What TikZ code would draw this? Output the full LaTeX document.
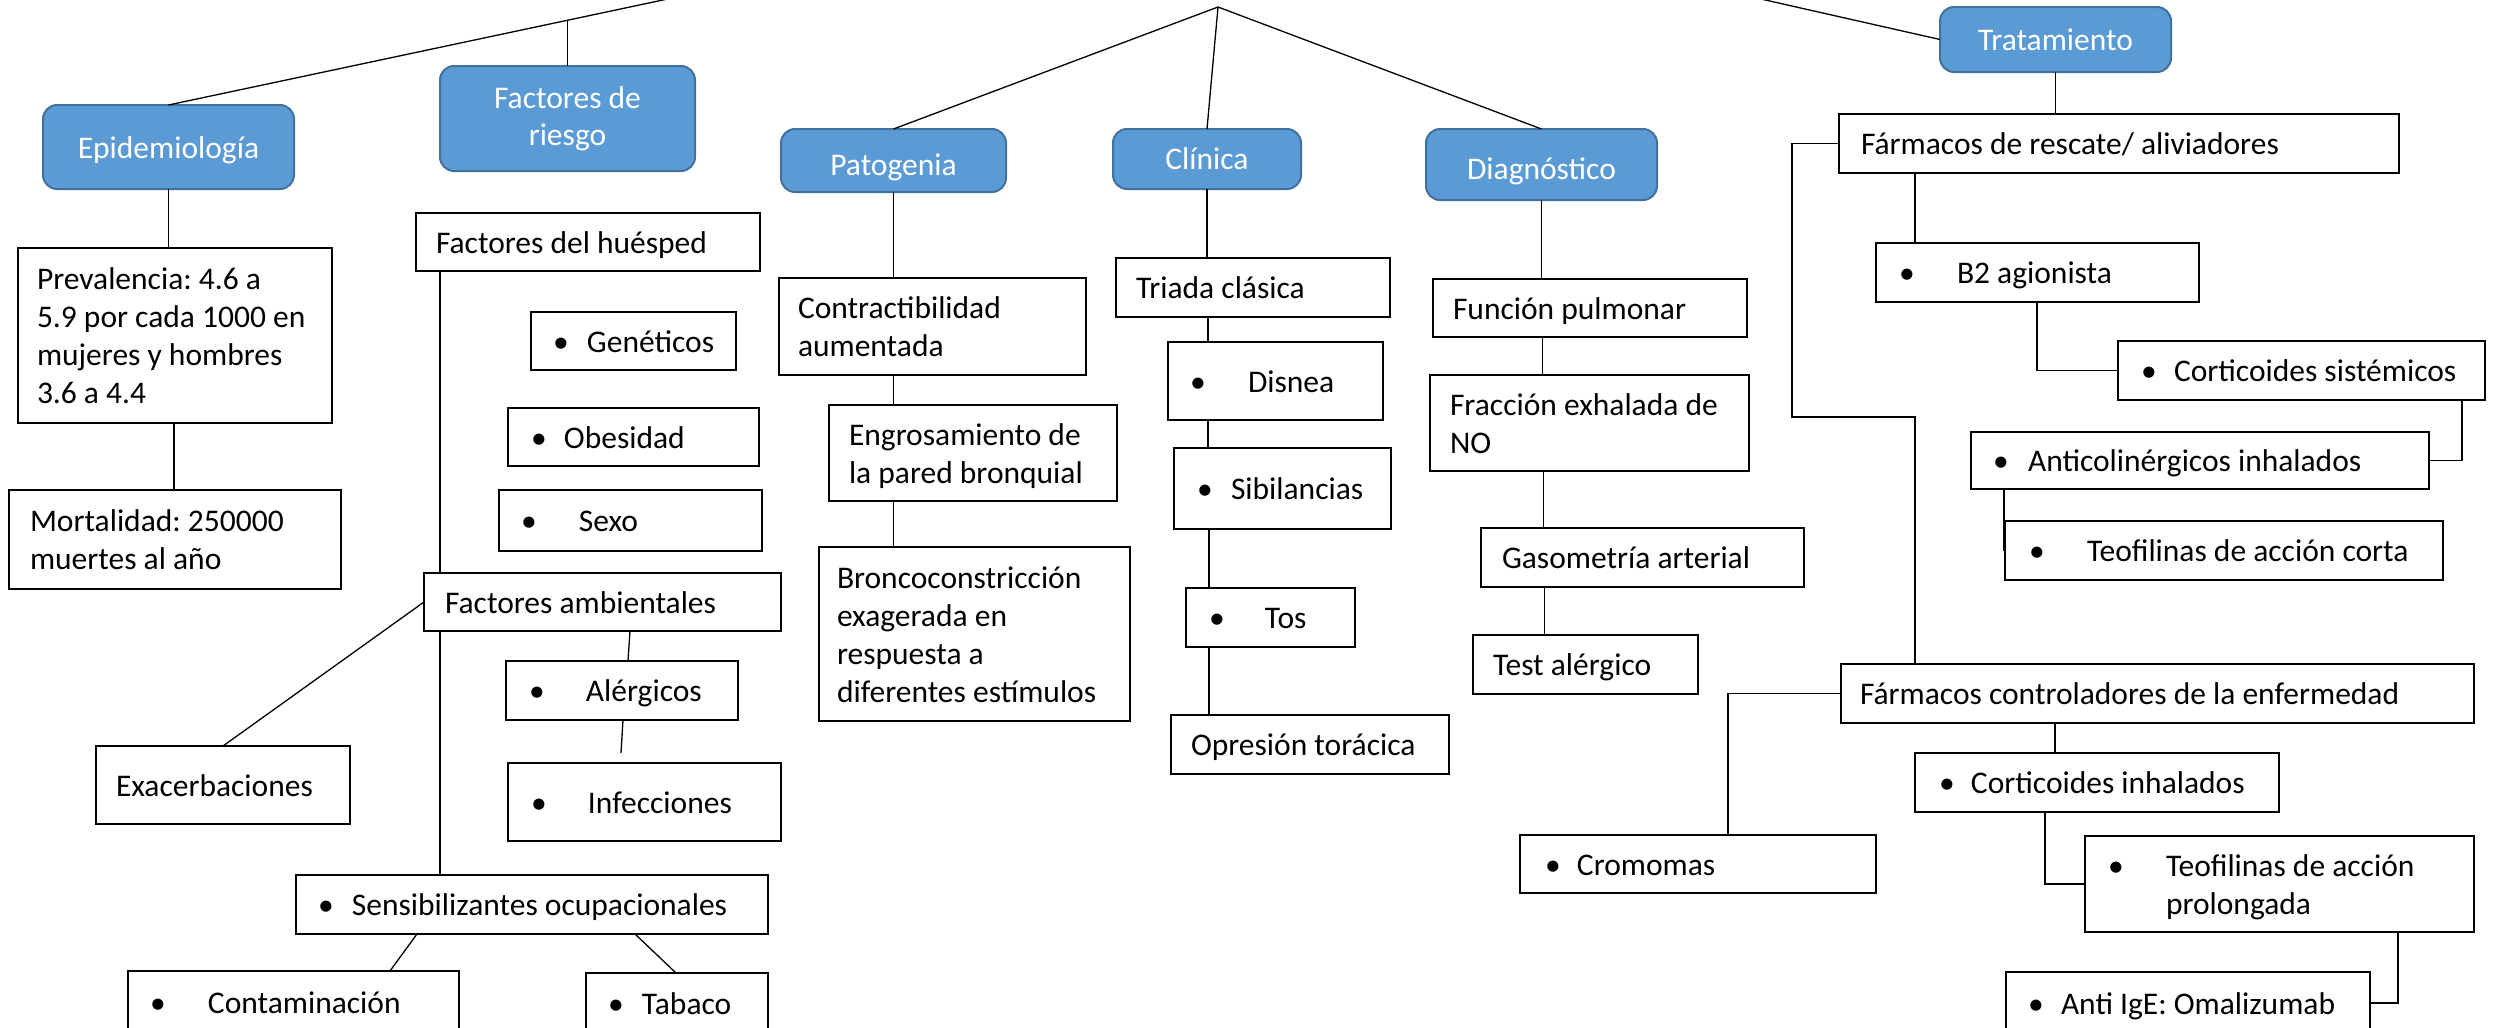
\documentclass[tikz,border=0pt]{standalone}
\usepackage{fontspec}
\setmainfont{Carlito}
\frenchspacing
\definecolor{hdfill}{HTML}{5B9BD5}
\definecolor{hdline}{HTML}{41719C}
\tikzset{
  bx/.style={draw=black, line width=2.6pt, fill=white, inner sep=0pt, outer sep=0pt},
  hd/.style={draw=hdline, line width=2pt, fill=hdfill, rounded corners=14pt, text=white, align=center, inner sep=0pt, outer sep=0pt},
  conn/.style={draw=black, line width=1.3pt}
}
\newcommand\mkbox[7]{%
  \node[bx, minimum width={(#4-#2)*1pt}, minimum height={(#5-#3)*1pt}] (#1) at ({(#2+#4)/2*1pt},{-(#3+#5)/2*1pt})
  {\parbox{\dimexpr#4pt-#2pt\relax}{\leftskip=#6pt\relax\rightskip=0pt plus 1fil\parindent=0pt\parfillskip=0pt plus 1fil\rule{0pt}{34pt}#7\rule[-12pt]{0pt}{12pt}}};}
% name, x1, y1, x2, y2, extra options, text
\newcommand\mkhd[7]{%
  \node[hd, minimum width={(#4-#2)*1pt}, minimum height={(#5-#3)*1pt}, #6] (#1) at ({(#2+#4)/2*1pt},{-(#3+#5)/2*1pt}) {#7};}
\newcommand\bul[2]{\makebox[#1pt][l]{•}#2}
\begin{document}
\begin{tikzpicture}[x=1pt, y=-1pt, font=\fontsize{31.5}{38}\selectfont]
\useasboundingbox (0,0) rectangle (2501,1028);
\fill[white] (0,0) rectangle (2501,1028);
\clip (0,0) rectangle (2501,1028);

% headers
\mkhd{epi}{43}{105}{294}{189}{text height=31pt, text depth=8pt}{Epidemiología}
\mkhd{fac}{440}{66}{695}{171}{}{Factores de\\[-1pt]riesgo}
\mkhd{pat}{781}{129}{1006}{192}{text height=38pt, text depth=8pt}{Patogenia}
\mkhd{cli}{1113}{129}{1301}{189}{text height=28pt, text depth=8pt}{Clínica}
\mkhd{dia}{1426}{129}{1657}{200}{text height=37pt, text depth=8pt}{Diagnóstico}
\mkhd{tra}{1940}{7}{2171}{72}{text height=29pt, text depth=8pt}{Tratamiento}

% epidemiologia
\mkbox{prev}{18}{248}{332}{423}{19}{Prevalencia: 4.6 a\\5.9 por cada 1000 en\\mujeres y hombres\\3.6 a 4.4}
\mkbox{mort}{9}{490}{341}{589}{21}{Mortalidad: 250000\\muertes al año}

% factores de riesgo
\mkbox{hues}{416}{213}{760}{271}{20}{Factores del huésped}
\mkbox{gen}{531}{312}{736}{370}{22}{\bul{34}{Genéticos}}
\mkbox{obe}{508}{408}{759}{466}{23}{\bul{33}{Obesidad}}
\mkbox{sexo}{499}{490}{762}{551}{22}{\bul{58}{Sexo}}
\mkbox{amb}{424}{573}{781}{631}{21}{Factores ambientales}
\mkbox{exa}{96}{746}{350}{824}{20}{Exacerbaciones}
\mkbox{ale}{506}{661}{738}{720}{23}{\bul{57}{Alérgicos}}
\mkbox{inf}{508}{763}{781}{841}{23}{\bul{57}{Infecciones}}
\mkbox{sen}{296}{875}{768}{934}{22}{\bul{34}{Sensibilizantes ocupacionales}}
\mkbox{con}{128}{971}{459}{1034}{22}{\bul{58}{Contaminación}}
\mkbox{tab}{586}{973}{768}{1034}{22}{\bul{34}{Tabaco}}

% patogenia
\mkbox{ctr}{779}{278}{1086}{375}{19}{Contractibilidad\\aumentada}
\mkbox{eng}{829}{405}{1117}{501}{20}{Engrosamiento de\\la pared bronquial}
\mkbox{bro}{819}{547}{1130}{721}{18}{Broncoconstricción\\exagerada en\\respuesta a\\diferentes estímulos}

% clinica
\mkbox{tri}{1116}{258}{1390}{317}{20}{Triada clásica}
\mkbox{dis}{1168}{342}{1383}{420}{22}{\bul{58}{Disnea}}
\mkbox{sib}{1174}{448}{1391}{529}{23}{\bul{34}{Sibilancias}}
\mkbox{tos}{1186}{588}{1355}{647}{23}{\bul{56}{Tos}}
\mkbox{opr}{1171}{715}{1449}{774}{20}{Opresión torácica}

% diagnostico
\mkbox{fun}{1433}{279}{1747}{337}{20}{Función pulmonar}
\mkbox{fra}{1430}{375}{1749}{471}{20}{Fracción exhalada de\\NO}
\mkbox{gas}{1481}{528}{1804}{587}{21}{Gasometría arterial}
\mkbox{tes}{1473}{635}{1698}{694}{20}{Test alérgico}

% tratamiento
\mkbox{res}{1839}{114}{2399}{173}{22}{Fármacos de rescate/ aliviadores}
\mkbox{b2}{1876}{243}{2199}{302}{23}{\bul{58}{B2 agionista}}
\mkbox{cs}{2118}{341}{2485}{400}{23}{\bul{33}{Corticoides sistémicos}}
\mkbox{ac}{1971}{432}{2429}{489}{22}{\bul{35}{Anticolinérgicos inhalados}}
\mkbox{tc}{2005}{521}{2443}{580}{24}{\bul{58}{Teofilinas de acción corta}}
\mkbox{ctl}{1841}{664}{2474}{723}{19}{Fármacos controladores de la enfermedad}
\mkbox{crom}{1520}{835}{1876}{893}{25}{\bul{32}{Cromomas}}
\mkbox{ci}{1915}{753}{2279}{812}{24}{\bul{32}{Corticoides inhalados}}
\mkbox{tp}{2085}{836}{2474}{932}{23}{\bul{58}{Teofilinas de acción}\\\hspace*{58pt}prolongada}
\mkbox{ige}{2006}{972}{2370}{1034}{22}{\bul{33}{Anti IgE: Omalizumab}}

% free ends toward the root (above the picture)
\coordinate (rootL) at (710,-10);
\coordinate (rootR) at (1721,-10);
\coordinate (apex) at (1218,7);
\coordinate (jfac) at (567.5,20.3);
\coordinate (vx) at (440,0);
\coordinate (infgap) at (621,753);
\coordinate (e1) at (1792,417);

% connectors
\draw[conn] (epi.north) -- (rootL);
\draw[conn] (jfac) -- (fac.north);
\draw[conn] (apex) -- (pat.north);
\draw[conn] (apex) -- (cli.north);
\draw[conn] (apex) -- (dia.north);
\draw[conn] (tra.west) -- (rootR);

\draw[conn] (epi.south) -- (epi.south |- prev.north);
\draw[conn] ([xshift=-1pt]prev.south) -- ([xshift=-1pt]prev.south |- mort.north);

\draw[conn] (hues.south -| vx) -- (amb.north -| vx);
\draw[conn] (amb.south -| vx) -- (sen.north -| vx);
\draw[conn] (amb.west) -- (exa.north);
\draw[conn] ([xshift=8pt]ale.north |- amb.south) -- ([xshift=6pt]ale.north);
\draw[conn] ([xshift=1pt]ale.south) -- (infgap);
\draw[conn] ([xshift=121pt]sen.south west) -- ([xshift=262pt]con.north west);
\draw[conn] ([xshift=339pt]sen.south west) -- ([xshift=90pt]tab.north west);

\draw[conn] (pat.south) -- (pat.south |- ctr.north);
\draw[conn] (pat.south |- ctr.south) -- (pat.south |- eng.north);
\draw[conn] (pat.south |- eng.south) -- (pat.south |- bro.north);

\draw[conn] (cli.south) -- (cli.south |- tri.north);
\draw[conn] ([xshift=1pt]cli.south |- tri.south) -- ([xshift=1pt]cli.south |- dis.north);
\draw[conn] ([xshift=1pt]cli.south |- dis.south) -- ([xshift=1pt]cli.south |- sib.north);
\draw[conn] ([xshift=2pt]cli.south |- sib.south) -- ([xshift=2pt]cli.south |- tos.north);
\draw[conn] ([xshift=2pt]cli.south |- tos.south) -- ([xshift=2pt]cli.south |- opr.north);

\draw[conn] (dia.south) -- (dia.south |- fun.north);
\draw[conn] ([xshift=1pt]dia.south |- fun.south) -- ([xshift=1pt]dia.south |- fra.north);
\draw[conn] ([xshift=2pt]dia.south |- fra.south) -- ([xshift=2pt]dia.south |- gas.north);
\draw[conn] ([xshift=3pt]dia.south |- gas.south) -- ([xshift=3pt]dia.south |- tes.north);

\draw[conn] (tra.south) -- (tra.south |- res.north);
\draw[conn] ([xshift=76pt]res.south west) -- ([xshift=76pt]res.south west |- b2.north);
\draw[conn] ([xshift=161pt]b2.south west) |- (cs.west);
\draw[conn] ([xshift=344pt]cs.south west) |- (ac.east);
\draw[conn] (ac.south west) -| ([xshift=-1pt]tc.west);
\draw[conn] (res.west) -| (e1) -| ([xshift=74pt]ctl.north west);
\draw[conn] (ctl.west) -| ([xshift=208pt]crom.north west);
\draw[conn] ([xshift=140pt]ci.north west |- ctl.south) -- ([xshift=140pt]ci.north west);
\draw[conn] ([xshift=130pt]ci.south west) |- (tp.west);
\draw[conn] ([xshift=313pt]tp.south west) |- (ige.east);
\end{tikzpicture}
\end{document}
